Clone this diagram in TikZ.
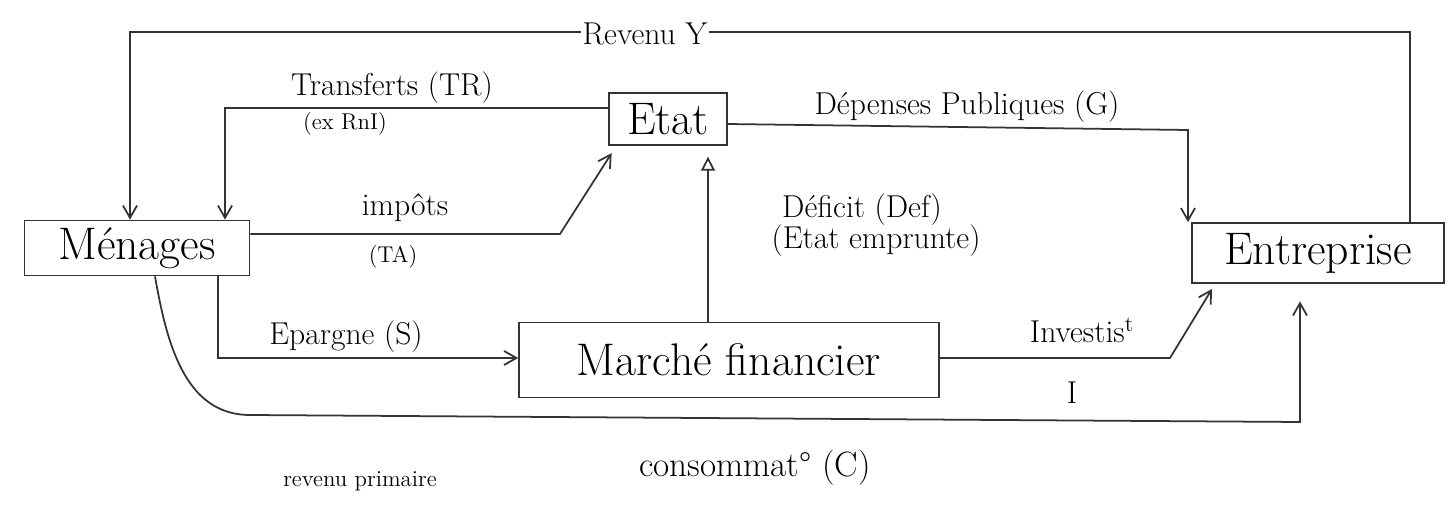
\documentclass[tikz,border=0pt]{standalone}
\usetikzlibrary{arrows.meta}
\begin{document}
\begin{tikzpicture}[x=0.02cm,y=-0.02cm,
  ink/.style={draw=black!80,line width=1pt},
  arr/.style={ink,-{Straight Barb[length=7pt,width=8pt]}},
  openarr/.style={ink,-{Triangle[open,length=8pt,width=8pt]}},
  box/.style={ink,rectangle,inner sep=0pt,font=\fontsize{26}{28}\selectfont},
  lab/.style={font=\fontsize{18}{20}\selectfont,inner sep=1pt},
  small/.style={font=\fontsize{13}{15}\selectfont,inner sep=1pt}]
\useasboundingbox (0,0) rectangle (1448,506);
% nodes
\node[box,minimum width=4.5cm,minimum height=1.1cm] (men) at (137,248) {Ménages};
\node[box,minimum width=2.36cm,minimum height=1.05cm] (etat) at (668,119) {Etat};
\node[box,minimum width=5.05cm,minimum height=1.2cm] (ent) at (1318,253) {Entreprise};
\node[box,minimum width=8.4cm,minimum height=1.5cm] (mf) at (729,360) {Marché financier};
% coordinates
\coordinate (r1) at (1410,32);
\coordinate (r2) at (130,32);
\coordinate (t1) at (225,108);
\coordinate (d0) at (727,124);
\coordinate (d1) at (1188,130);
\coordinate (i1) at (560,234);
\coordinate (f1) at (708,0);
\coordinate (e1) at (218,358);
\coordinate (v1) at (1170,358);
\coordinate (v2) at (1212,289);
\coordinate (c0) at (155,0);
\coordinate (c1) at (250,415);
\coordinate (c2) at (1300,422);
% connectors
\draw[arr] (ent.north -| r1) -- (r1) -- (r2) -- (men.north -| r2);
\node[lab,fill=white] (rev) at (645,34) {Revenu Y};
\draw[arr] (etat.west |- t1) -- (t1) -- (men.north -| t1);
\node[lab] (ltr) at (392,88) {Transferts (TR)};
\node[small] (lex) at (345,124) {(ex RnI)};
\draw[arr] (d0) -- (d1) -- (ent.north -| d1);
\node[lab] (ldp) at (967,107) {Dépenses Publiques (G)};
\draw[arr] (men.east |- i1) -- (i1) -- ([xshift=2pt,yshift=-4pt]etat.south west);
\node[lab] (limp) at (405,208) {impôts};
\node[small] (lta) at (393,257) {(TA)};
\draw[openarr] (mf.north -| f1) -- ([yshift=-6pt]etat.south -| f1);
\node[lab] (ldef) at (862,210) {Déficit (Def)};
\node[lab] (lemp) at (876,241) {(Etat emprunte)};
\draw[arr] (men.south -| e1) -- (e1) -- (mf.west |- e1);
\node[lab] (lep) at (346,337) {Epargne (S)};
\draw[arr] (mf.east |- v1) -- (v1) -- (v2);
\node[lab] (linv) at (1082,330) {Investis\textsuperscript{t}};
\node[lab] (li) at (1072,393) {I};
\draw[arr] (men.south -| c0) to[out=-80,in=180] (c1) -- (c2) -- ([yshift=-10pt]ent.south -| c2);
\node[lab,font=\fontsize{20}{22}\selectfont] (lc) at (755,468) {consommat° (C)};
\node[small] (lrp) at (360,481) {revenu primaire};
\end{tikzpicture}
\end{document}
